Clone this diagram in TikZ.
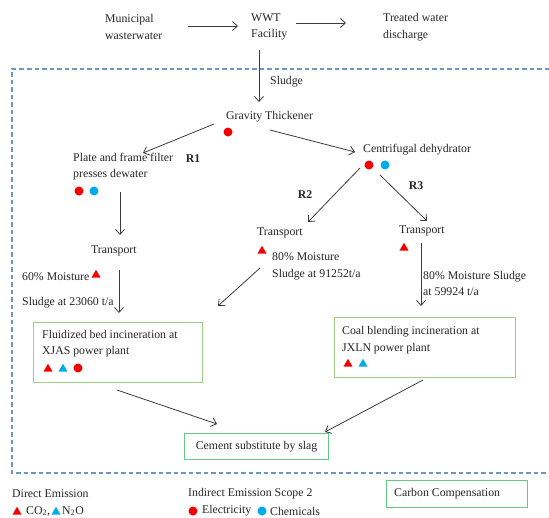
\documentclass[tikz,border=0pt]{standalone}
\usepackage{fontspec}
\setmainfont{Liberation Serif}
\usetikzlibrary{arrows.meta,shapes.geometric}
\definecolor{dashblue}{RGB}{110,150,195}
\definecolor{boxgreen}{RGB}{160,208,130}
\definecolor{boxteal}{RGB}{100,200,135}
\definecolor{emred}{RGB}{245,0,0}
\definecolor{emblue}{RGB}{0,170,235}
\definecolor{arrgray}{RGB}{60,60,60}
\begin{document}
\begin{tikzpicture}[x=1pt,y=-1pt,
  every node/.style={font=\fontsize{11.8}{16.5}\selectfont, text=black!85},
  lbl/.style={anchor=west, inner sep=0pt, align=left},
  rlbl/.style={inner sep=0pt, font=\fontsize{11.8}{14}\selectfont\bfseries},
  arr/.style={draw=arrgray, line width=0.8pt, -{Straight Barb[length=5pt,width=9pt]}},
  tri/.style={regular polygon, regular polygon sides=3, minimum size=10.5pt, inner sep=0pt, draw=none},
  redtri/.style={tri, fill=emred},
  bluetri/.style={tri, fill=emblue},
  dot/.style={circle, minimum size=9pt, inner sep=0pt, draw=none},
  reddot/.style={dot, fill=emred},
  bluedot/.style={dot, fill=emblue},
  gbox/.style={draw=boxgreen, line width=1.1pt, anchor=north west, inner sep=0pt},
  tbox/.style={draw=boxteal, line width=1.1pt, anchor=north west, inner sep=0pt},
  dashline/.style={draw=dashblue, line width=1.2pt, dash pattern=on 4.5pt off 3pt}
]
\useasboundingbox (0,0) rectangle (549,517);
\fill[white] (0,0) rectangle (549,517);

% dashed system boundary
\draw[dashline] (549,69) -- (12,69) -- (12,473) -- (549,473);

% top row
\node[lbl] (mun) at (105,27) {Municipal\\wasterwater};
\node[lbl] (wwt) at (251,27) {WWT\\Facility};
\node[lbl] (treated) at (383,27) {Treated water\\discharge};
\node[lbl] (sludge) at (270,82) {Sludge};

% dewatering
\node[lbl] (grav) at (226,117) {Gravity Thickener};
\node[reddot] (gdot) at (228,132) {};
\node[rlbl] (r1) at (193,159) {R1};
\node[lbl] (plate) at (73,166.5) {Plate and frame filter\\presses dewater};
\node[reddot] (pdot1) at (79,191) {};
\node[bluedot] (pdot2) at (94,191) {};
\node[lbl] (centr) at (363,150) {Centrifugal dehydrator};
\node[reddot] (cdot1) at (369,165) {};
\node[bluedot] (cdot2) at (385,165) {};
\node[rlbl] (r2) at (305,195) {R2};
\node[rlbl] (r3) at (416,186) {R3};

% transport
\node[lbl] (t1) at (91,251) {Transport};
\node[redtri] (t1tri) at (96,275) {};
\node[lbl] (m60) at (22,290) {60\% Moisture\\[8.5pt]Sludge at 23060 t/a};
\node[lbl] (t2) at (257,233) {Transport};
\node[redtri] (t2tri) at (262,251) {};
\node[lbl] (m80a) at (272,266.5) {80\% Moisture\\Sludge at 91252t/a};
\node[lbl] (t3) at (399,231) {Transport};
\node[redtri] (t3tri) at (404,248) {};
\node[lbl] (m80b) at (423,283.5) {80\% Moisture Sludge\\at 59924 t/a};

% incineration boxes
\node[gbox, minimum width=169pt, minimum height=60pt] (fluid) at (33,322) {};
\node[lbl] (fluidtxt) at (42,343.5) {Fluidized bed incineration at\\XJAS power plant};
\node[redtri] (fs1) at (48,369) {};
\node[bluetri] (fs2) at (63,369) {};
\node[reddot] (fs3) at (78,368) {};

\node[gbox, minimum width=181pt, minimum height=60pt] (coal) at (334,317) {};
\node[lbl] (coaltxt) at (342,340) {Coal blending incineration at\\JXLN power plant};
\node[redtri] (cs1) at (348,364) {};
\node[bluetri] (cs2) at (363,364) {};

\node[tbox, minimum width=144pt, minimum height=26pt] (cement) at (184,433) {Cement substitute by slag};

% legend
\node[lbl] (direct) at (12,494) {Direct Emission};
\node[redtri] (ltri1) at (17,512) {};
\node[lbl] (co2) at (26,511) {CO\textsubscript{2},};
\node[bluetri] (ltri2) at (56,512) {};
\node[lbl] (n2o) at (62,511) {N\textsubscript{2}O};
\node[lbl] (indirect) at (188,494) {Indirect Emission Scope 2};
\node[reddot] (ldot1) at (193,511) {};
\node[lbl] (elec) at (202,511) {Electricity};
\node[bluedot] (ldot2) at (262,511) {};
\node[lbl] (chem) at (270,511) {Chemicals};
\node[tbox, minimum width=141pt, minimum height=27pt] (carbon) at (386,480) {};
\node[lbl] (carbontxt) at (394,494) {Carbon Compensation};

% connectors
\draw[arr] ([shift={(83,-1)}]mun.west) -- ([shift={(-13,-1)}]wwt.west);
\draw[arr] ([shift={(45,-4)}]wwt.west) -- ([shift={(-37,-4)}]treated.west);
\draw[arr] ([shift={(8,23)}]wwt.west) -- ([shift={(33,-15)}]grav.west);
\draw[arr] ([shift={(-12,7)}]grav.west) -- ([shift={(70,-13.5)}]plate.west);
\draw[arr] ([shift={(44,13)}]grav.west) -- ([shift={(-8,2)}]centr.west);
\draw[arr] ([shift={(47,25.5)}]plate.west) -- ([shift={(29,-16)}]t1.west);
\draw[arr] ([shift={(28,19)}]t1.west) -- ([shift={(86,-9)}]fluid.north west);
\draw[arr] ([shift={(-3,18)}]centr.west) -- ([shift={(51,-11)}]t2.west);
\draw[arr] ([shift={(17,25)}]centr.west) -- ([shift={(28,-10)}]t3.west);
\draw[arr] ([shift={(3,35)}]t2.west) -- ([shift={(185,-16)}]fluid.north west);
\draw[arr] ([shift={(22,12)}]t3.west) -- ([shift={(87,-11)}]coal.north west);
\draw[arr] ([shift={(84,68)}]fluid.north west) -- ([shift={(33,-9)}]cement.north west);
\draw[arr] ([shift={(89,63)}]coal.north west) -- ([shift={(141,-1)}]cement.north west);
\end{tikzpicture}
\end{document}
